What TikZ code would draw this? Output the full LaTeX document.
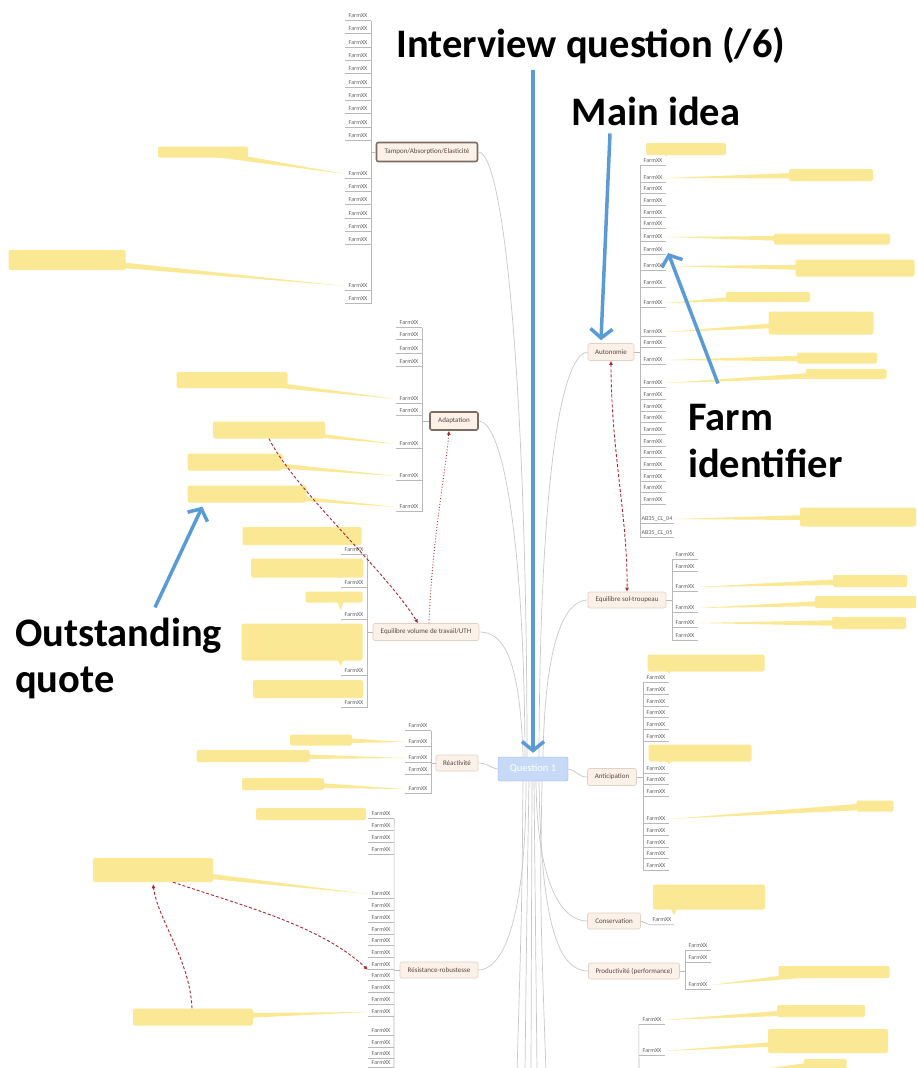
\documentclass[tikz,border=0pt]{standalone}
\usepackage{fontspec}
\setmainfont{Carlito}
\usetikzlibrary{arrows.meta,calc,positioning}

\definecolor{ideablue}{RGB}{91,155,213}
\definecolor{farmtext}{RGB}{95,95,95}
\definecolor{twiggray}{RGB}{185,185,185}
\definecolor{spokegray}{RGB}{200,200,200}
\definecolor{branchline}{RGB}{225,208,196}
\definecolor{branchfill}{RGB}{252,241,233}
\definecolor{branchtext}{RGB}{90,70,60}
\definecolor{pickedline}{RGB}{125,108,98}
\definecolor{topicfill}{RGB}{198,218,247}
\definecolor{topicline}{RGB}{140,178,230}
\definecolor{quotefill}{RGB}{250,232,148}
\definecolor{relred}{RGB}{168,40,52}

% yellow notes: wedge towards a leaf, tail below the note
\newcommand{\quotewedge}[2]{\fill[quotefill] ($(#1.center)+(0,-3.5)$) -- (#2) -- ($(#1.center)+(0,3.5)$) -- cycle;}
\newcommand{\quotetail}[2]{\fill[quotefill] ($(#1.south -| #2)+(-4,-2)$) -- (#2) -- ($(#1.south -| #2)+(3,-2)$) -- cycle;}

\begin{document}
\begin{tikzpicture}[
  x=1pt, y=-1pt,
  farm/.style={font=\fontsize{6}{7}\selectfont, text=farmtext, minimum width=26pt, minimum height=9pt, inner sep=0pt},
  twig/.style={draw=twiggray, line width=0.6pt},
  spoke/.style={draw=spokegray, line width=0.7pt},
  branch/.style={draw=branchline, fill=branchfill, rounded corners=2pt, text=branchtext,
    font=\fontsize{7}{8}\selectfont, inner sep=0pt, minimum height=17pt, line width=0.6pt},
  picked/.style={branch, draw=pickedline, line width=1.6pt},
  topic/.style={draw=topicline, fill=topicfill, rounded corners=2pt, text=white,
    font=\fontsize{10.5}{12}\selectfont, minimum width=70pt, minimum height=24pt, inner sep=0pt},
  quotebox/.style 2 args={fill=quotefill, rounded corners=2pt, inner sep=0pt, minimum width=#1, minimum height=#2},
  relation/.style={draw=relred, line width=0.9pt, densely dashed, -{Latex[length=4pt,width=4pt]}},
  pointer/.style={draw=ideablue, line width=3.5pt, -{Straight Barb[length=9pt,width=22pt]}},
  bigtext/.style={font=\fontsize{40.5}{47}\selectfont\bfseries, inner sep=0pt}
]
\clip (0,0) rectangle (916,1068);
\fill[white] (0,0) rectangle (916,1068);

% central topic and main ideas
\node[topic] (q1) at (533,769) {Question 1};
\node[picked, minimum width=101pt, minimum height=19pt] (tampon) at (427,152) {Tampon/Absorption/Elasticité};
\node[picked, minimum width=48pt, minimum height=18pt] (adapt) at (454,421) {Adaptation};
\node[branch, minimum width=106pt] (evol) at (426,632) {Equilibre volume de travail/UTH};
\node[branch, minimum width=42pt, minimum height=16pt] (react) at (457,763) {Réactivité};
\node[branch, minimum width=78pt, minimum height=16pt] (resist) at (439,970) {Résistance-robustesse};
\node[branch, minimum width=46pt] (auto) at (611,352) {Autonomie};
\node[branch, minimum width=78pt, minimum height=16pt] (soltr) at (627,600) {Equilibre sol-troupeau};
\node[branch, minimum width=49pt] (anticip) at (612,777) {Anticipation};
\node[branch, minimum width=53pt, minimum height=16pt] (conserv) at (614,921) {Conservation};
\node[branch, minimum width=91pt, minimum height=16pt] (product) at (634,971) {Productivité (performance)};

% spokes from the central topic
\draw[spoke] ($(q1.north)+(-6,0)$) .. controls (527,400) and (505,152) .. (tampon.east);
\draw[spoke] ($(q1.north)+(-8,0)$) .. controls (524,520) and (500,421) .. (adapt.east);
\draw[spoke] ($(q1.north)+(-10,0)$) .. controls (520,650) and (500,632) .. (evol.east);
\draw[spoke] ($(q1.north)+(6,0)$) .. controls (540,450) and (565,353) .. (auto.west);
\draw[spoke] ($(q1.north)+(10,0)$) .. controls (545,640) and (565,600) .. (soltr.west);
\draw[spoke] (q1.east) .. controls (578,771) and (578,777) .. (anticip.west);
\draw[spoke] (q1.west) .. controls (490,768) and (488,763) .. (react.east);
\draw[spoke] ($(q1.south)+(-7,0)$) .. controls (526,930) and (500,970) .. (resist.east);
\draw[spoke] ($(q1.south)+(3,0)$) .. controls (537,880) and (560,921) .. (conserv.west);
\draw[spoke] ($(q1.south)+(6,0)$) .. controls (541,930) and (560,971) .. (product.west);
\coordinate (b1) at (517,1072);
\coordinate (b2) at (525,1072);
\coordinate (b3) at (531,1072);
\coordinate (b4) at (537,1072);
\coordinate (b5) at (546,1072);
\draw[spoke] ($(q1.south)+(-10,0)$) .. controls (522,900) .. (b1);
\draw[spoke] ($(q1.south)+(-4,0)$) .. controls (527,900) .. (b2);
\draw[spoke] ($(q1.south)+(-1,0)$) -- (b3);
\draw[spoke] ($(q1.south)+(1,0)$) -- (b4);
\draw[spoke] ($(q1.south)+(9,0)$) .. controls (540,900) .. (b5);

% FarmXX lists
\foreach \y [count=\i] in {16,29,43,56,69,83,96,109,123,136,174,187,200,214,227,240,286,299} {
  \node[farm] (tp\i) at (358,\y) {FarmXX};
  \draw[twig] (tp\i.south west) -- (tp\i.south east);
}
\draw[twig] (tp1.south east) -- (tp18.south east);
\draw[twig] (tampon.west) -- (tampon.west -| tp1.south east);

\foreach \y [count=\i] in {323,335,349,362,399,411,444,476,507} {
  \node[farm] (ad\i) at (409,\y) {FarmXX};
  \draw[twig] (ad\i.south west) -- (ad\i.south east);
}
\draw[twig] (ad1.south east) -- (ad9.south east);
\draw[twig] (adapt.west) -- (adapt.west -| ad1.south east);

\foreach \y [count=\i] in {550,583,615,671,703} {
  \node[farm] (ev\i) at (354,\y) {FarmXX};
  \draw[twig] (ev\i.south west) -- (ev\i.south east);
}
\draw[twig] (ev1.south east) -- (ev5.south east);
\draw[twig] (evol.west) -- (evol.west -| ev1.south east);

\foreach \y [count=\i] in {726,742,758,770,789} {
  \node[farm] (re\i) at (418,\y) {FarmXX};
  \draw[twig] (re\i.south west) -- (re\i.south east);
}
\draw[twig] (re1.south east) -- (re5.south east);
\draw[twig] (react.west) -- (react.west -| re1.south east);

\foreach \y [count=\i] in {814,826,838,850,894,906,918,930,941,953,965,976,988,1000,1012,1031,1043,1054,1063} {
  \node[farm] (rs\i) at (381,\y) {FarmXX};
  \draw[twig] (rs\i.south west) -- (rs\i.south east);
}
\coordinate (rsend) at (394,1072);
\draw[twig] (rs1.south east) -- (rsend);
\draw[twig] (resist.west) -- (resist.west -| rs1.south east);

\foreach \y [count=\i] in {161,178,189,201,213,224,237,250,266,283,303,332,343,360,383,395,407,418,430,442,453,465,477,488,500} {
  \node[farm] (au\i) at (653,\y) {FarmXX};
  \draw[twig] (au\i.south west) -- (au\i.south east);
}
\node[farm, minimum width=34pt] (ab4) at (657,519) {AB35\_CL\_04};
\node[farm, minimum width=34pt] (ab5) at (657,533) {AB35\_CL\_05};
\draw[twig] (ab4.south west) -- (ab4.south east);
\draw[twig] (ab5.south west) -- (ab5.south east);
\draw[twig] (au1.south west) -- (ab5.south west);
\draw[twig] (auto.east) -- (auto.east -| au1.south west);

\foreach \y [count=\i] in {555,567,587,608,623,636} {
  \node[farm] (st\i) at (685,\y) {FarmXX};
  \draw[twig] (st\i.south west) -- (st\i.south east);
}
\draw[twig] (st1.south west) -- (st6.south west);
\draw[twig] (soltr.east) -- (soltr.east -| st1.south west);

\foreach \y [count=\i] in {678,690,702,713,725,737,769,780,792,819,831,843,854,866} {
  \node[farm] (an\i) at (656,\y) {FarmXX};
  \draw[twig] (an\i.south west) -- (an\i.south east);
}
\draw[twig] (an1.south west) -- (an14.south west);
\draw[twig] (anticip.east) -- (anticip.east -| an1.south west);

\node[farm, minimum width=24pt] (cs1) at (662,920) {FarmXX};
\draw[twig] (conserv.east) -- (cs1.south west) -- (cs1.south east);

\foreach \y [count=\i] in {946,958,985} {
  \node[farm] (pr\i) at (698,\y) {FarmXX};
  \draw[twig] (pr\i.south west) -- (pr\i.south east);
}
\draw[twig] (pr1.south west) -- (pr3.south west);
\draw[twig] (product.east) -- (product.east -| pr1.south west);

\foreach \y [count=\i] in {1020,1051} {
  \node[farm] (bt\i) at (652,\y) {FarmXX};
  \draw[twig] (bt\i.south west) -- (bt\i.south east);
}
\coordinate (btend) at (639,1072);
\draw[twig] (bt1.south west) -- (btend);

% yellow notes
\node[quotebox={90pt}{11pt}] (tq1) at (203,152) {};
\node[quotebox={117pt}{20pt}] (tq2) at (67,260) {};
\quotewedge{tq1}{tp11.west}
\quotewedge{tq2}{tp17.west}

\node[quotebox={111pt}{16pt}] (aq1) at (232,380) {};
\node[quotebox={112pt}{17pt}] (aq2) at (269,430) {};
\node[quotebox={95pt}{17pt}] (aq3) at (235,462) {};
\node[quotebox={119pt}{17pt}] (aq4) at (247,494) {};
\quotewedge{aq1}{ad5.west}
\quotewedge{aq2}{ad7.west}
\quotewedge{aq3}{ad8.west}
\quotewedge{aq4}{ad9.west}

\node[quotebox={119pt}{18pt}] (eq1) at (302,536) {};
\node[quotebox={112pt}{19pt}] (eq2) at (307,568) {};
\node[quotebox={57pt}{11pt}] (eq3) at (334,597) {};
\node[quotebox={121pt}{37pt}] (eq4) at (302,642) {};
\node[quotebox={110pt}{18pt}] (eq5) at (308,689) {};
\quotetail{eq1}{ev1.north west}
\quotetail{eq2}{ev2.north west}
\quotetail{eq3}{ev3.north west}
\quotetail{eq4}{ev4.north west}
\quotetail{eq5}{ev5.north west}

\node[quotebox={62pt}{11pt}] (rq1) at (321,740) {};
\node[quotebox={113pt}{12pt}] (rq2) at (253,756) {};
\node[quotebox={82pt}{12pt}] (rq3) at (283,784) {};
\quotewedge{rq1}{re2.west}
\quotewedge{rq2}{re3.west}
\quotewedge{rq3}{re5.west}

\node[quotebox={110pt}{12pt}] (sq1) at (311,814) {};
\node[quotebox={120pt}{24pt}] (sq2) at (153,870) {};
\node[quotebox={120pt}{17pt}] (sq3) at (193,1017) {};
\quotewedge{sq1}{rs1.west}
\quotewedge{sq2}{rs5.west}
\quotewedge{sq3}{rs15.west}

\node[quotebox={80pt}{12pt}] (uq1) at (686,149) {};
\node[quotebox={84pt}{12pt}] (uq2) at (831,175) {};
\node[quotebox={116pt}{11pt}] (uq3) at (832,239) {};
\node[quotebox={119pt}{17pt}] (uq4) at (855,268) {};
\node[quotebox={84pt}{10pt}] (uq5) at (768,297) {};
\node[quotebox={105pt}{23pt}] (uq6) at (821,323) {};
\node[quotebox={80pt}{11pt}] (uq7) at (837,358) {};
\node[quotebox={81pt}{10pt}] (uq8) at (846,374) {};
\node[quotebox={116pt}{19pt}] (uq9) at (858,517) {};
\quotetail{uq1}{au1.north east}
\quotewedge{uq2}{au2.east}
\quotewedge{uq3}{au7.east}
\quotewedge{uq4}{au9.east}
\quotewedge{uq5}{au11.east}
\quotewedge{uq6}{au12.east}
\quotewedge{uq7}{au14.east}
\quotewedge{uq8}{au15.east}
\quotewedge{uq9}{ab4.east}

\node[quotebox={74pt}{12pt}] (oq1) at (870,581) {};
\node[quotebox={102pt}{12pt}] (oq2) at (866,602) {};
\node[quotebox={74pt}{12pt}] (oq3) at (869,623) {};
\quotewedge{oq1}{st3.east}
\quotewedge{oq2}{st4.east}
\quotewedge{oq3}{st5.east}

\node[quotebox={117pt}{17pt}] (nq1) at (706,663) {};
\node[quotebox={103pt}{17pt}] (nq2) at (700,753) {};
\node[quotebox={37pt}{11pt}] (nq3) at (875,806) {};
\quotetail{nq1}{an1.north east}
\quotetail{nq2}{an7.north east}
\quotewedge{nq3}{an10.east}

\node[quotebox={112pt}{25pt}] (cq1) at (709,897) {};
\quotetail{cq1}{cs1.north east}

\node[quotebox={111pt}{12pt}] (pq1) at (834,972) {};
\quotewedge{pq1}{pr3.east}

\coordinate (bx) at (668,1082);
\node[quotebox={88pt}{12pt}] (bq1) at (821,1011) {};
\node[quotebox={120pt}{24pt}] (bq2) at (828,1041) {};
\node[quotebox={43pt}{10pt}] (bq3) at (825,1064) {};
\quotewedge{bq1}{bt1.east}
\quotewedge{bq2}{bt2.east}
\quotewedge{bq3}{bx}

% relationships
\draw[relation] (aq2.south) .. controls (295,490) and (385,570) .. ($(evol.north)+(-8,0)$);
\draw[relation, dotted] ($(evol.north)+(3,0)$) .. controls (432,540) and (446,470) .. ($(adapt.south)+(-5,0)$);
\draw[relation, {Latex[length=4pt,width=4pt]}-{Latex[length=4pt,width=4pt]}] (auto.south) .. controls (611,450) and (628,520) .. (soltr.north);
\draw[relation] ($(sq2.south)+(20,0)$) .. controls (240,905) and (320,925) .. (rs11.south west);
\draw[relation] ($(sq3.north)+(-1,0)$) .. controls (190,960) and (158,920) .. ($(sq2.south)+(0,2)$);

% annotations
\node[bigtext, anchor=base] (iq) at (591,57) {Interview question (/6)};
\node[bigtext, anchor=base] (mi) at (656,125) {Main idea};
\node[bigtext, anchor=base west] (fi1) at (688,430) {Farm};
\node[bigtext, anchor=base west] (fi2) at (688,477) {identifier};
\node[bigtext, anchor=base west] (oq1l) at (15,646) {Outstanding};
\node[bigtext, anchor=base west] (oq2l) at (15,692) {quote};

\draw[pointer] (iq.south -| q1.north) ++(0,6) -- ($(q1.north)+(0,-4)$);
\draw[pointer] ($(mi.south)+(-46,8)$) -- ($(auto.north)+(-10,-3)$);
\draw[pointer] ($(fi1.north west)+(30,-20)$) -- ($(au8.east)+(2,3)$);
\draw[pointer] ($(oq1l.north west)+(140,-10)$) -- ($(aq4.south west)+(15,4)$);
\end{tikzpicture}
\end{document}
